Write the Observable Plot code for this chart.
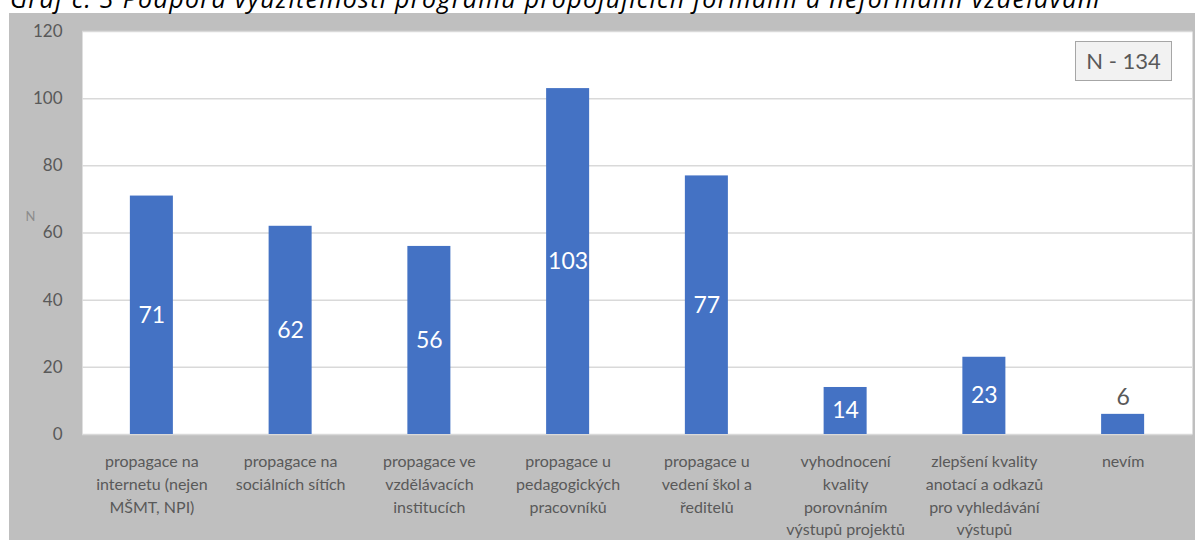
<!DOCTYPE html>
<html>
<head>
<meta charset="utf-8">
<script src="https://cdn.jsdelivr.net/npm/d3@7"></script>
<script src="https://cdn.jsdelivr.net/npm/@observablehq/plot@0.6"></script>
<style>
  html, body { margin: 0; padding: 0; background: #fff; }
  #page { position: relative; width: 1195px; height: 540px; overflow: hidden; font-family: Lato, "Open Sans", sans-serif; }
  #title { position: absolute; z-index: 2; left: 10px; top: -15px; font-style: italic; font-size: 25px; line-height: 26px; letter-spacing: 1.3px; color: #000; white-space: nowrap; font-family: "Open Sans", Lato, sans-serif; }
  #panel { position: absolute; left: 9px; top: 13px; width: 1186px; height: 527px; background: #bfbfbf; }
  #chart { position: absolute; left: 0; top: 0; }
  #nbox { position: absolute; left: 1075px; top: 41px; width: 95px; height: 38px; background: #f2f2f2; border: 1px solid #a6a6a6; color: #595959; font-size: 22px; line-height: 38px; text-align: center; }
</style>
</head>
<body>
<div id="page">
  <div id="panel"></div>
  <div id="title">Graf č. 3 Podpora využitelnosti programů propojujících formální a neformální vzdělávání</div>
  <div id="chart"></div>
  <div id="nbox">N - 134</div>
</div>
<script>
// Categories (one entry per bar) and their wrapped tick labels
const categories = [
  "propagace na internetu (nejen MŠMT, NPI)",
  "propagace na sociálních sítích",
  "propagace ve vzdělávacích institucích",
  "propagace u pedagogických pracovníků",
  "propagace u vedení škol a ředitelů",
  "vyhodnocení kvality porovnáním výstupů projektů",
  "zlepšení kvality anotací a odkazů pro vyhledávání výstupů",
  "nevím"
];
const tickLabels = [
  "propagace na\ninternetu (nejen\nMŠMT, NPI)",
  "propagace na\nsociálních sítích",
  "propagace ve\nvzdělávacích\ninstitucích",
  "propagace u\npedagogických\npracovníků",
  "propagace u\nvedení škol a\nředitelů",
  "vyhodnocení\nkvality\nporovnáním\nvýstupů projektů",
  "zlepšení kvality\nanotací a odkazů\npro vyhledávání\nvýstupů",
  "nevím"
];
const counts = [71, 62, 56, 103, 77, 14, 23, 6];
const yTicks = [0, 20, 40, 60, 80, 100, 120];

const data = categories.map((c, i) => ({category: c, value: counts[i], label: tickLabels[i]}));
const labelOf = new Map(data.map(d => [d.category, d.label]));
const inside = data.filter(d => d.value >= 10);
const outside = data.filter(d => d.value < 10);

const chart = Plot.plot({
  width: 1195,
  height: 540,
  marginLeft: 82,
  marginRight: 3,
  marginTop: 31,
  marginBottom: 106,
  style: {background: "transparent", fontFamily: "Lato, 'Open Sans', sans-serif", color: "#595959"},
  x: {domain: categories, paddingInner: 0.69, paddingOuter: 0.345, round: false, label: null},
  y: {domain: [0, 120], ticks: yTicks, label: null},
  marks: [
    Plot.frame({fill: "white", stroke: null}),
    Plot.ruleY(yTicks, {stroke: "#d9d9d9", strokeWidth: 1.5}),
    Plot.barY(data, {x: "category", y: "value", fill: "#4472c4"}),
    Plot.axisY({ticks: yTicks, tickSize: 0, tickPadding: 20, fontSize: 17, fill: "#595959", label: null}),
    Plot.axisX({tickSize: 0, tickPadding: 16, fontSize: 16, lineHeight: 1.43, fill: "#595959", lineAnchor: "top", tickFormat: d => labelOf.get(d), label: null}),
    Plot.text(inside, {x: "category", y: d => d.value / 2, text: d => String(d.value), fill: "white", fontSize: 23}),
    Plot.text(outside, {x: "category", y: "value", text: d => String(d.value), fill: "#595959", fontSize: 23, dy: -17}),
    Plot.text(["N"], {frameAnchor: "left", dx: -57, dy: -16, fill: "#8c8c8c", fontSize: 13})
  ]
});
document.getElementById("chart").appendChild(chart);
</script>
</body>
</html>
